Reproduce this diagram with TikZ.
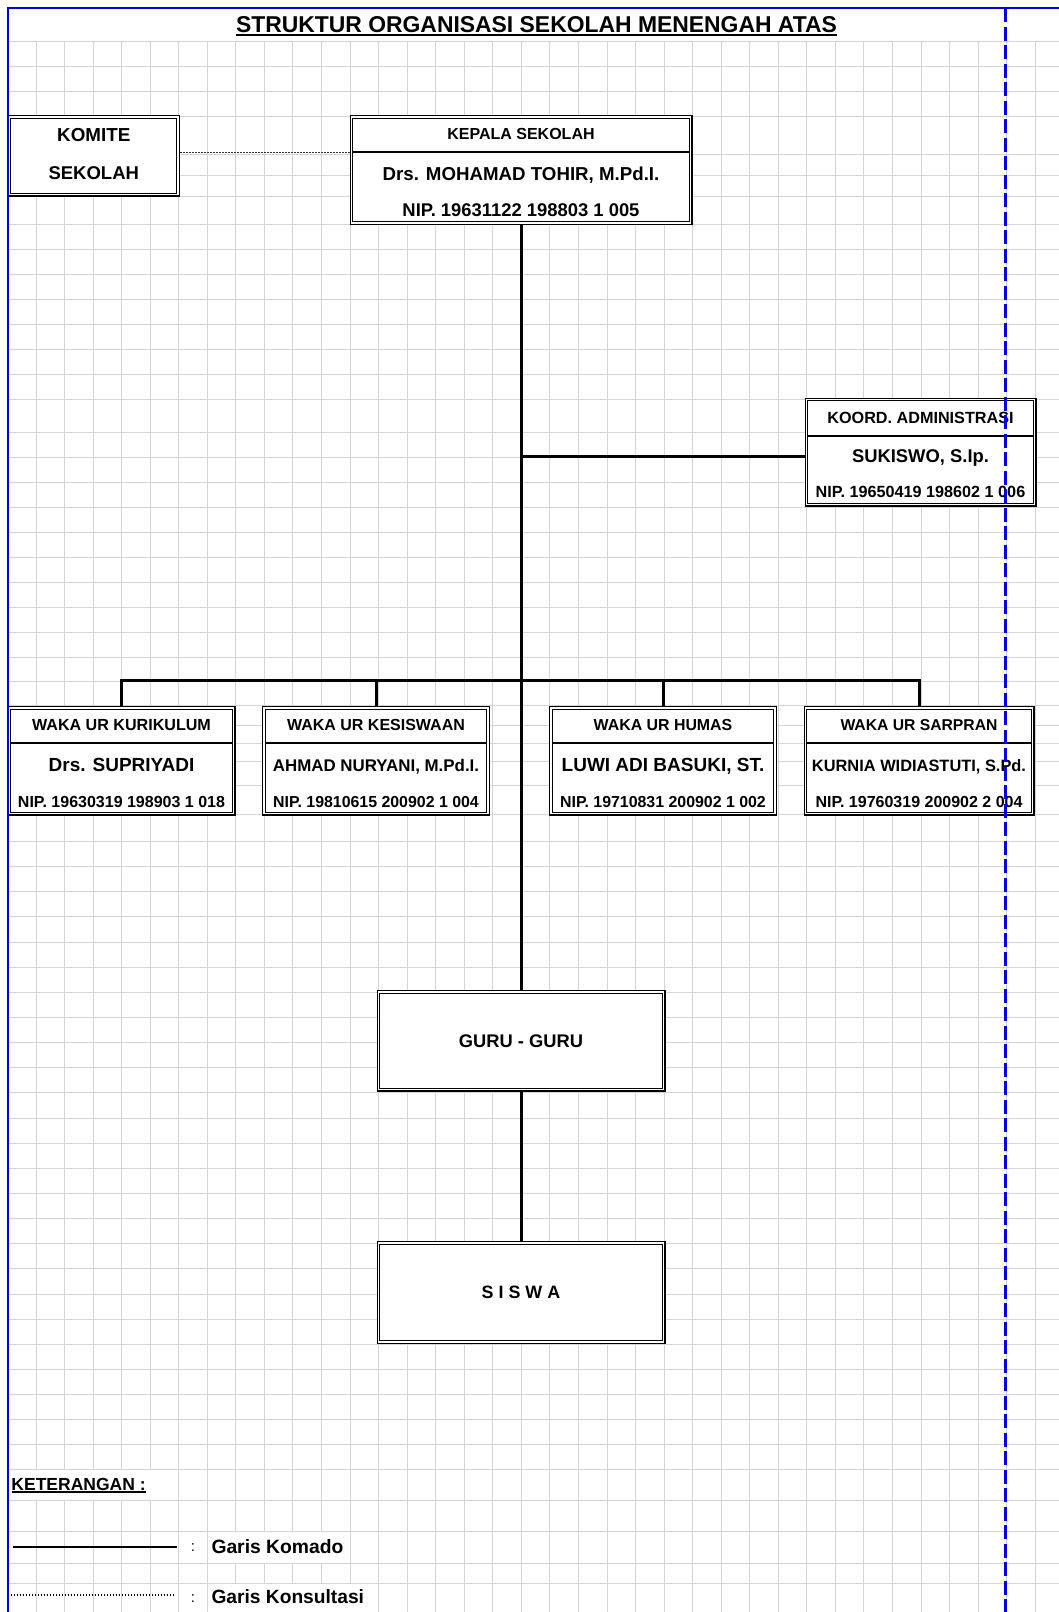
\documentclass[tikz,border=0pt]{standalone}
\usepackage{fontspec}
\setmainfont{Liberation Sans}
\usetikzlibrary{%
	positioning,
	calc
}
\definecolor{gridgray}{RGB}{212,212,212}
\definecolor{pageblue}{RGB}{0,0,225}

\begin{document}
\begin{tikzpicture}[
		x=1pt,y=-1pt,
		fs/.style={font=\bfseries\fontsize{#1}{#1}\selectfont},
		kotak/.style={draw,double,line width=1.1pt,double distance=1.7pt,fill=white,inner sep=0pt,outer sep=1.95pt},
		baris/.style={inner sep=0pt,outer sep=0pt,text height=12.5pt,text depth=0pt,minimum width=#1},
		teks/.style={inner sep=0pt,outer sep=0pt,text height=12.5pt,text depth=0pt},
		sekat/.style={line width=2.3pt},
		komando/.style={line width=3pt},
		konsul/.style={line width=0.9pt,black!80,dash pattern=on 2pt off 1pt},
		garis/.style={gridgray,line width=1.4pt},
		batas/.style={pageblue,line width=2pt}
	]
	\fill[white] (0,0) rectangle (1059,1612);
	\useasboundingbox (0,0) rectangle (1059,1612);

	% grid of the sheet
	\foreach \k in {0,...,36}
		\draw[garis] ({round(35.5+28.55*\k)+0.5},41.5) -- ({round(35.5+28.55*\k)+0.5},1612);
	\foreach \y in {41,66,91,116,154,175,196,224,249,274,299,324,349,374,399,432,457,482,507,532,557,582,607,632,657,681,705,725,743,761,785,814,841,1500,1531,1563,1583}
		\draw[garis] (8,\y+0.5) -- (1059,\y+0.5);
	\foreach \k in {1,...,25}
		\draw[garis] (8,{round(841+25.14*\k)+0.5}) -- (1059,{round(841+25.14*\k)+0.5});
	\fill[white] (9,1470.3) rectangle (177.6,1499.7);
	\fill[white] (208.3,1532.3) rectangle (348.6,1562.7);
	\fill[white] (208.3,1584.3) rectangle (377.3,1612);

	\node(judul) [fs=22.9, teks, anchor=base] at (536.5,32.5) {STRUKTUR ORGANISASI SEKOLAH MENENGAH ATAS};
	\draw[line width=1.6pt] ([yshift=-2.3pt]judul.base west) -- ([yshift=-2.3pt]judul.base east);

	% komite dan kepala sekolah
	\node(komite) [kotak, minimum width=168.6pt, minimum height=77.6pt] at (93.75,155.75) {};
	\node(komite-1) [fs=18.8, baris=166pt, minimum height=40pt, below=0pt of komite.north] {KOMITE};
	\node(komite-2) [fs=18.5, baris=166pt, minimum height=36pt, below=0pt of komite-1] {SEKOLAH};

	\node(kepala) [kotak, minimum width=339.1pt, minimum height=106.1pt] at (521,170) {};
	\node(kepala-t) [fs=16, baris=337pt, minimum height=37pt, below=0pt of kepala.north] {KEPALA SEKOLAH};
	\node(kepala-n) [fs=18.7, baris=337pt, minimum height=44pt, below=0pt of kepala-t] {Drs. MOHAMAD TOHIR, M.Pd.I.};
	\node(kepala-p) [fs=18.4, baris=337pt, minimum height=29pt, below=0pt of kepala-n] {NIP. 19631122 198803 1 005};
	\draw[sekat] (kepala-t.south west) -- (kepala-t.south east);

	\draw[konsul] (komite.east |- kepala-t.south) -- (kepala.west |- kepala-t.south);

	% koordinator administrasi
	\node(koord) [kotak, minimum width=228.1pt, minimum height=105.1pt] at (920.5,452) {};
	\node(koord-t) [fs=16.2, baris=226pt, minimum height=38.5pt, below=0pt of koord.north] {KOORD. ADMINISTRASI};
	\node(koord-n) [fs=18.4, baris=226pt, minimum height=40pt, below=0pt of koord-t] {SUKISWO, S.Ip.};
	\node(koord-p) [fs=16.2, baris=226pt, minimum height=30.5pt, below=0pt of koord-n] {NIP. 19650419 198602 1 006};
	\draw[sekat] (koord-t.south west) -- (koord-t.south east);

	% wakil kepala sekolah
	\node(waka1) [kotak, minimum width=224.1pt, minimum height=105.6pt] at (121.5,760.75) {};
	\node(waka1-t) [fs=16.1, baris=222pt, minimum height=37pt, below=0pt of waka1.north] {WAKA UR KURIKULUM};
	\node(waka1-n) [fs=19, baris=222pt, minimum height=44pt, below=0pt of waka1-t] {Drs. SUPRIYADI};
	\node(waka1-p) [fs=16, baris=222pt, minimum height=28.5pt, below=0pt of waka1-n] {NIP. 19630319 198903 1 018};
	\draw[sekat] (waka1-t.south west) -- (waka1-t.south east);

	\node(waka2) [kotak, minimum width=224.1pt, minimum height=105.6pt] at (376,760.75) {};
	\node(waka2-t) [fs=16, baris=222pt, minimum height=37pt, below=0pt of waka2.north] {WAKA UR KESISWAAN};
	\node(waka2-n) [fs=16.9, baris=222pt, minimum height=44pt, below=0pt of waka2-t] {AHMAD NURYANI, M.Pd.I.};
	\node(waka2-p) [fs=15.9, baris=222pt, minimum height=28.5pt, below=0pt of waka2-n] {NIP. 19810615 200902 1 004};
	\draw[sekat] (waka2-t.south west) -- (waka2-t.south east);

	\node(waka3) [kotak, minimum width=224.1pt, minimum height=105.6pt] at (663,760.75) {};
	\node(waka3-t) [fs=15.9, baris=222pt, minimum height=37pt, below=0pt of waka3.north] {WAKA UR HUMAS};
	\node(waka3-n) [fs=19, baris=222pt, minimum height=44pt, below=0pt of waka3-t] {LUWI ADI BASUKI, ST.};
	\node(waka3-p) [fs=15.9, baris=222pt, minimum height=28.5pt, below=0pt of waka3-n] {NIP. 19710831 200902 1 002};
	\draw[sekat] (waka3-t.south west) -- (waka3-t.south east);

	\node(waka4) [kotak, minimum width=227.1pt, minimum height=105.6pt] at (919,760.75) {};
	\node(waka4-t) [fs=15.7, baris=225pt, minimum height=37pt, below=0pt of waka4.north] {WAKA UR SARPRAN};
	\node(waka4-n) [fs=16.4, baris=225pt, minimum height=44pt, below=0pt of waka4-t] {KURNIA WIDIASTUTI, S.Pd.};
	\node(waka4-p) [fs=16, baris=225pt, minimum height=28.5pt, below=0pt of waka4-n] {NIP. 19760319 200902 2 004};
	\draw[sekat] (waka4-t.south west) -- (waka4-t.south east);

	% guru dan siswa
	\node(guru) [kotak, fs=18.3, minimum width=285.1pt, minimum height=97.6pt] at (521,1040.75) {GURU - GURU};
	\node(siswa) [kotak, fs=17.9, minimum width=285.1pt, minimum height=99.1pt] at (521,1292.5) {S I S W A};

	% garis komando
	\coordinate(cabang) at (521,680);
	\draw[komando] (kepala.south) -- (guru.north);
	\draw[komando] (guru.south) -- (siswa.north);
	\draw[komando] (koord-n.west -| kepala.south) -- (koord.west |- koord-n.west);
	\draw[komando] (waka1.north) |- (cabang) -| (waka4.north);
	\draw[komando] (waka2.north) -- (waka2.north |- cabang);
	\draw[komando] (waka3.north) -- (waka3.north |- cabang);

	% keterangan
	\node(ket) [fs=17.5, teks, anchor=base west] at (11.5,1490) {KETERANGAN :};
	\draw[line width=1.5pt] ([yshift=-2pt]ket.base west) -- ([yshift=-2pt]ket.base east);

	\coordinate(komando-a) at (12.5,1547);
	\coordinate(komando-b) at (176.5,1547);
	\draw[line width=2.6pt] (komando-a) -- (komando-b);
	\node(titik-1) [font=\fontsize{15}{15}\selectfont, inner sep=0pt] at (193,1548) {:};
	\node(ket-1) [fs=19.3, teks, anchor=west] at (211.5,1547) {Garis Komado};

	\coordinate(konsul-a) at (10.5,1595);
	\coordinate(konsul-b) at (175,1595);
	\draw[line width=1.4pt, dash pattern=on 1.4pt off 1.6pt] (konsul-a) -- (konsul-b);
	\node(titik-2) [font=\fontsize{15}{15}\selectfont, inner sep=0pt] at (193,1598.5) {:};
	\node(ket-2) [fs=19.2, teks, anchor=west] at (211.5,1597.5) {Garis Konsultasi};

	% batas halaman
	\draw[batas] (8,1612) -- (8,7.5) -- (1059,7.5);
	\draw[pageblue, line width=3pt, dash pattern=on 14pt off 4.5pt] (1005,8) -- (1005,1612);
\end{tikzpicture}
\end{document}
